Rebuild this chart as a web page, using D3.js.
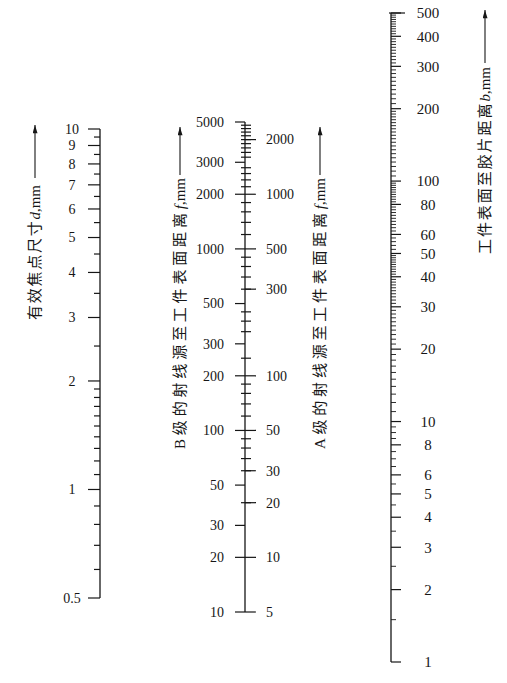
<!DOCTYPE html>
<html><head><meta charset="utf-8">
<script src="https://cdn.jsdelivr.net/npm/d3@7"></script>
<style>body{margin:0;background:#fff}svg{display:block}</style>
</head><body><svg id="c" width="507" height="683"></svg>
<script>
// ---- data (tick values) ----
const dLabels = [0.5, 1, 2, 3, 4, 5, 6, 7, 8, 9, 10];
const dMinor = [0.6, 0.7, 0.8, 0.9, 1.1, 1.2, 1.3, 1.4, 1.5, 1.6, 1.7, 1.8, 1.9, 2.5, 3.5, 4.5, 5.5, 6.5, 7.5, 8.5, 9.5];
const fbLabels = [10, 20, 30, 50, 100, 200, 300, 500, 1000, 2000, 3000, 5000];
const faLabels = [5, 10, 20, 30, 50, 100, 300, 500, 1000, 2000];
const fbMinor = [40, 60, 70, 80, 90, 120, 140, 160, 180, 250, 350, 400, 450, 600, 700, 800, 900,
  1200, 1400, 1600, 1800, 2200, 2400, 2600, 2800, 3200, 3400, 3600, 3800, 4000, 4200, 4400, 4600, 4800];
const bLabels = [1, 2, 3, 4, 5, 6, 8, 10, 20, 30, 40, 50, 60, 80, 100, 200, 300, 400, 500];
const bMinorSteps = [[1, 10, 0.5], [10, 50, 1], [50, 100, 2], [100, 200, 5], [200, 500, 10]];
const titles = {
  d: ["有效焦点尺寸", "d", ",mm"],
  fb: ["B级的射线源至工件表面距离", "f", ",mm"],
  fa: ["A级的射线源至工件表面距离", "f", ",mm"],
  b: ["工件表面至胶片距离", "b", ",mm"]
};

// ---- drawing ----
const svg = d3.select("#c");
const ink = "#161616";
const numFont = "'Liberation Serif', 'DejaVu Serif', serif";
const cjkFont = "'Liberation Serif', 'Noto Sans CJK SC', serif";

svg.append("defs").append("marker")
  .attr("id", "ah").attr("viewBox", "0 0 10 6").attr("refX", 10).attr("refY", 3)
  .attr("markerWidth", 10).attr("markerHeight", 5).attr("markerUnits", "userSpaceOnUse")
  .attr("orient", "auto")
  .append("path").attr("d", "M0,0 L10,3 L0,6 Z").attr("fill", ink);

function line(x1, y1, x2, y2, w) {
  svg.append("line").attr("x1", x1).attr("y1", y1).attr("x2", x2).attr("y2", y2)
    .attr("stroke", ink).attr("stroke-width", w || 1.3);
}
function ticks(scale, vals, x, l, r, w) {
  svg.append("g").selectAll("line").data(vals).join("line")
    .attr("x1", x + l).attr("x2", x + r)
    .attr("y1", d => scale(d)).attr("y2", d => scale(d))
    .attr("stroke", ink).attr("stroke-width", w || 1.2);
}
function labels(scale, vals, x, anchor, size) {
  svg.append("g").selectAll("text").data(vals).join("text")
    .attr("x", x).attr("y", d => scale(d)).attr("dy", "0.35em")
    .attr("text-anchor", anchor)
    .attr("font-family", numFont).attr("font-size", size || 14).attr("fill", ink)
    .text(d => String(d));
}
function title(x, top, bottom, arrowTop, arrowBottom, parts) {
  svg.append("line").attr("x1", x).attr("y1", arrowBottom).attr("x2", x).attr("y2", arrowTop)
    .attr("stroke", ink).attr("stroke-width", 1.1).attr("marker-end", "url(#ah)");
  const t = svg.append("text")
    .attr("transform", `translate(${x},${bottom}) rotate(-90)`)
    .attr("dy", "0.36em")
    .attr("font-family", cjkFont).attr("font-size", 15).attr("fill", ink);
  const main = t.append("tspan").text(parts[0]);
  const it = t.append("tspan").attr("font-style", "italic").text(parts[1]);
  const tail = t.append("tspan").text(parts[2]);
  const latin = it.node().getComputedTextLength() + tail.node().getComputedTextLength();
  const n = parts[0].length;
  const mainLen = main.node().getComputedTextLength();
  const target = (bottom - top) - latin;
  main.attr("letter-spacing", Math.max(0, (target - mainLen) / n));
}

// d axis (effective focal spot size)
const dY = d3.scaleLog().domain([0.5, 10]).range([598, 129]);
const dX = 100;
line(dX, dY(10), dX, dY(0.5));
ticks(dY, dLabels, dX, -12, 0);
ticks(dY, dMinor, dX, -6, 0);
labels(dY, dLabels, 72, "middle", 14);
title(35, 185, 320, 125, 178, titles.d);

// f axis (source-to-object distance, B on left, A on right)
const fY = d3.scaleLog().domain([10, 5000]).range([612, 122]);
const aY = d3.scaleLog().domain([5, 2500]).range([612, 122]);
const fX = 245;
line(fX, fY(5000), fX, fY(10));
ticks(fY, fbLabels, fX, -10, 0);
ticks(aY, faLabels, fX, 0, 11);
ticks(fY, fbMinor, fX, -4, 6);
labels(fY, fbLabels, 224, "end", 14);
labels(aY, faLabels, 266, "start", 14);
title(180, 178, 449, 127, 175, titles.fb);
title(320, 178, 449, 127, 175, titles.fa);

// b axis (object-to-film distance)
const bY = d3.scaleLog().domain([1, 500]).range([662, 13]);
const bX = 391;
const bMinor = bMinorSteps.flatMap(([a, b, s]) => d3.range(a, b, s).map(v => +v.toFixed(2)))
  .filter(v => !bLabels.includes(v));
line(bX, bY(500), bX, bY(1));
ticks(bY, bMinor, bX, 0, 5, 0.9);
ticks(bY, bLabels, bX, 0, 10);
ticks(bY, [500], bX, -2, 14);
labels(bY, bLabels, 428, "middle", 15);
title(485, 67, 254, 10, 63, titles.b);
</script></body></html>
